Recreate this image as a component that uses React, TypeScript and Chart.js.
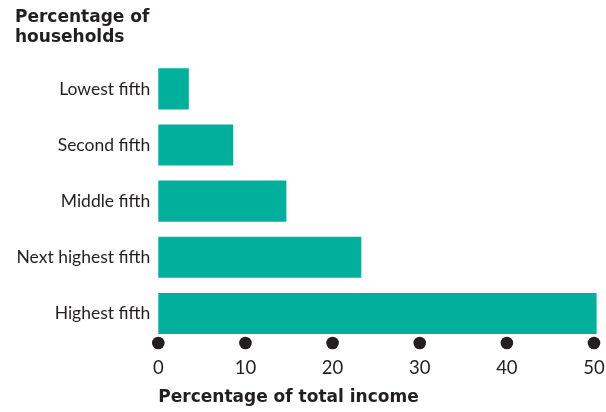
import React, { useEffect, useRef } from "react";
import { Chart, registerables } from "chart.js";

Chart.register(...registerables);

const categories = ["Lowest fifth", "Second fifth", "Middle fifth", "Next highest fifth", "Highest fifth"];
const incomeShare = [3.5, 8.6, 14.7, 23.3, 50.3];
const xTicks = [0, 10, 20, 30, 40, 50];
const yTitleLines = ["Percentage of", "households"];
const xTitle = "Percentage of total income";

const TEAL = "#00b09b";
const INK = "#231f20";
const FONT = "Lato, 'Open Sans', sans-serif";
const BOLD_FONT = "'DejaVu Sans', sans-serif";

const dotsPlugin = {
  id: "tickDots",
  afterDatasetsDraw(chart: any) {
    const x = chart.scales.x;
    const ctx = chart.ctx;
    const y = chart.chartArea.bottom + 1.5;
    ctx.save();
    ctx.fillStyle = INK;
    xTicks.forEach((v) => {
      const px = x.getPixelForValue(v);
      ctx.beginPath();
      ctx.arc(px, y, 6.3, 0, Math.PI * 2);
      ctx.fill();
    });
    ctx.restore();
  },
};

export default function App() {
  const ref = useRef<HTMLCanvasElement | null>(null);
  useEffect(() => {
    document.body.style.margin = "0";
    const chart = new Chart(ref.current!, {
      type: "bar",
      data: {
        labels: categories,
        datasets: [
          {
            data: incomeShare,
            backgroundColor: TEAL,
            borderWidth: 0,
            categoryPercentage: 0.732,
            barPercentage: 1,
            clip: false as any,
          },
        ],
      },
      options: {
        indexAxis: "y",
        animation: false,
        responsive: true,
        maintainAspectRatio: false,
        layout: { padding: { left: 15, right: 0, top: 0, bottom: 0 } },
        plugins: {
          legend: { display: false },
          tooltip: { enabled: false },
          title: {
            display: true,
            text: yTitleLines,
            align: "start",
            color: INK,
            font: { family: BOLD_FONT, size: 17, weight: "bold", lineHeight: 1.2 },
            padding: { top: 7, bottom: 13 },
          },
        },
        scales: {
          x: {
            type: "linear",
            min: 0,
            max: 50,
            afterBuildTicks(scale: any) {
              scale.ticks = xTicks.map((v) => ({ value: v }));
            },
            afterFit(scale: any) {
              scale.height = 70.5;
              scale.paddingRight = 12;
              scale.paddingLeft = 0;
            },
            grid: { display: false, drawTicks: false },
            border: { display: false },
            ticks: {
              color: INK,
              padding: 15,
              maxRotation: 0,
              font: { family: FONT, size: 18.5 },
            },
            title: {
              display: true,
              text: xTitle,
              align: "start",
              color: INK,
              font: { family: BOLD_FONT, size: 17, weight: "bold" },
              padding: { top: 0, bottom: 4 },
            },
          },
          y: {
            type: "category",
            afterFit(scale: any) {
              scale.width = 143.3;
            },
            grid: { display: false, drawTicks: false },
            border: { display: false },
            ticks: {
              color: INK,
              padding: 8,
              font: { family: FONT, size: 17.5 },
            },
          },
        },
      },
      plugins: [dotsPlugin],
    });
    return () => chart.destroy();
  }, []);
  return (
    <div style={{ width: 606, height: 412, position: "relative" }}>
      <canvas ref={ref} />
    </div>
  );
}
